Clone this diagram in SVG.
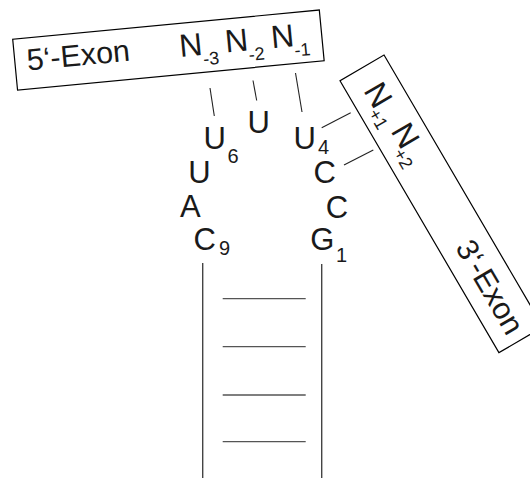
<svg xmlns="http://www.w3.org/2000/svg" width="530" height="478" viewBox="0 0 530 478">
<style>
.box{fill:#fff;stroke:#000;stroke-width:1.2}
.t{font-family:"Liberation Sans",Arial,sans-serif;fill:#1a1a1a}
.big{font-size:31px}
.n{font-size:32px}
.ex{font-size:30.5px}
.sub{font-size:18px}
.sub2{font-size:20px}
.ln{stroke:#222;stroke-width:1.1;fill:none}
.stem{stroke:#444;stroke-width:1.4;fill:none}
.rung{stroke:#555;stroke-width:1.3;fill:none}
</style>
<rect width="530" height="478" fill="#fff"/>
<g id="exon5" transform="translate(12.7,39.3) rotate(-5.46)">
<rect class="box" x="0" y="0" width="308" height="51"/>
<text class="t ex" x="12" y="32.5">5‘-Exon</text>
<text class="t n" x="165.2" y="33.5">N</text><text class="t sub" x="187.7" y="44">-3</text>
<text class="t n" x="211" y="33.5">N</text><text class="t sub" x="233.5" y="44">-2</text>
<text class="t n" x="257.4" y="33.5">N</text><text class="t sub" x="279.5" y="44">-1</text>
</g>
<g id="exon3" transform="translate(340,80.7) rotate(59.7)">
<rect class="box" x="0" y="-51" width="315" height="51"/>
<text class="t n" x="20" y="-15">N</text><text class="t sub" x="42" y="-7.6">+1</text>
<text class="t n" x="68.8" y="-18">N</text><text class="t sub" x="89" y="-9">+2</text>
<text class="t ex" x="202" y="-15">3‘-Exon</text>
</g>
<g id="loop">
<g id="U5"><text class="t big" x="247.5" y="132.7">U</text></g>
<g id="U6"><text class="t big" x="203.5" y="149.3">U</text><text class="t sub2" x="227.5" y="162.7">6</text></g>
<g id="U7"><text class="t big" x="188.2" y="182.7">U</text></g>
<g id="A8"><text class="t big" x="180" y="216.7">A</text></g>
<g id="C9"><text class="t big" x="193.5" y="250">C</text><text class="t sub2" x="219" y="255">9</text></g>
<g id="U4"><text class="t big" x="293.5" y="149.3">U</text><text class="t sub2" x="318" y="154">4</text></g>
<g id="C3"><text class="t big" x="313.5" y="183.3">C</text></g>
<g id="C2"><text class="t big" x="325.8" y="218.3">C</text></g>
<g id="G1"><text class="t big" x="310.2" y="250">G</text><text class="t sub2" x="336" y="261.7">1</text></g>
</g>
<g id="stem">
<line class="stem" x1="202.7" y1="263" x2="202.7" y2="478"/>
<line class="stem" x1="321.7" y1="264" x2="321.7" y2="478"/>
</g>
<g id="connectors">
<line class="ln" x1="210" y1="88" x2="214.3" y2="116"/>
<line class="ln" x1="253" y1="80.5" x2="256.7" y2="100.5"/>
<line class="ln" x1="295.5" y1="73" x2="302" y2="112"/>
<line class="ln" x1="321.7" y1="127.7" x2="350.7" y2="112.7"/>
<line class="ln" x1="344" y1="165" x2="373.3" y2="150"/>
<line class="rung" x1="222.7" y1="298.7" x2="305.7" y2="298.7"/>
<line class="rung" x1="222.7" y1="346.7" x2="305.7" y2="346.7"/>
<line class="rung" x1="222.7" y1="395" x2="305.7" y2="395"/>
<line class="rung" x1="222.7" y1="441.7" x2="305.7" y2="441.7"/>
</g>
</svg>
